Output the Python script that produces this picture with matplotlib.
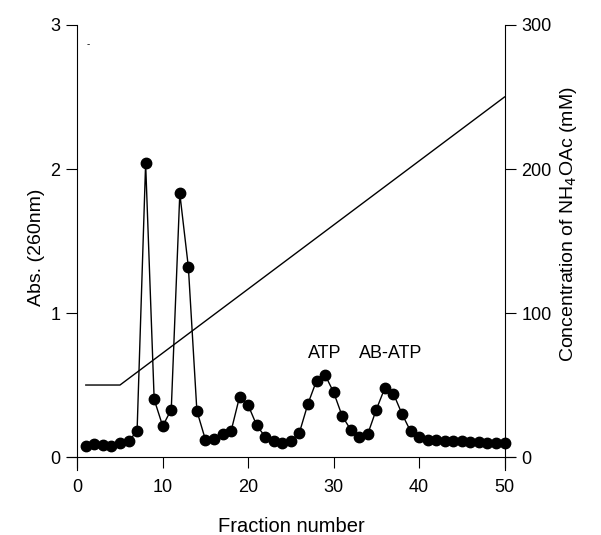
"""
Anion-exchange elution profile: absorbance at 260 nm and NH4OAc gradient
"""
import matplotlib
matplotlib.use('Agg')
import matplotlib.pyplot as plt

plt.rcParams['font.family'] = ['Liberation Sans', 'DejaVu Sans']

# Absorbance per fraction
fractions = list(range(1, 51))
absorbance = [
    0.08, 0.09, 0.085, 0.08, 0.10, 0.11, 0.18, 2.04, 0.40, 0.215,
    0.33, 1.83, 1.32, 0.32, 0.12, 0.125, 0.16, 0.18, 0.42, 0.36,
    0.22, 0.14, 0.11, 0.10, 0.11, 0.17, 0.37, 0.53, 0.57, 0.45,
    0.285, 0.19, 0.14, 0.16, 0.33, 0.48, 0.44, 0.30, 0.18, 0.14,
    0.12, 0.115, 0.11, 0.11, 0.11, 0.105, 0.105, 0.10, 0.10, 0.10,
]

# NH4OAc gradient (mM): flat, then linear
grad_x = [1, 5, 50]
grad_mm = [50, 50, 250]

peak_labels = ['ATP', 'AB-ATP']
peak_pos = [(29, 0.72), (36.7, 0.72)]

fig = plt.figure(figsize=(6.01, 5.35), dpi=100)
ax = fig.add_axes([0.1115, 0.1215, 0.745, 0.8318])
ax2 = ax.twinx()

ax.plot(fractions, absorbance, color='black', linewidth=1.0,
        marker='o', markersize=7.5, markerfacecolor='black', zorder=3)
ax2.plot(grad_x, grad_mm, color='black', linewidth=1.0)

ax.set_xlim(-1.2, 51.2)
ax.set_ylim(-0.09, 3)
ax2.set_ylim(-9, 300)

for a in (ax, ax2):
    a.spines['top'].set_visible(False)
ax.spines['left'].set_position(('data', 0))
ax.spines['bottom'].set_position(('data', 0))
ax.spines['right'].set_visible(False)
ax2.spines['left'].set_visible(False)
ax2.spines['bottom'].set_visible(False)
ax2.spines['right'].set_position(('data', 50))

ax.set_xticks([0, 10, 20, 30, 40, 50])
ax.set_yticks([0, 1, 2, 3])
ax2.set_yticks([0, 100, 200, 300])
ax.tick_params(axis='x', direction='out', length=8, width=0.8, labelsize=13, pad=8)
ax.tick_params(axis='y', direction='out', length=8, width=0.8, labelsize=13, pad=4)
ax2.tick_params(axis='y', direction='out', length=8, width=0.8, labelsize=13, pad=4)

ax.set_xlabel('Fraction number', fontsize=14.5, labelpad=15)
ax.set_ylabel('Abs. (260nm)', fontsize=14, labelpad=4)
ax2.set_ylabel('Concentration of NH$_4$OAc (mM)', fontsize=14, va='center')
ax2.yaxis.set_label_coords(1.12, 0.553)

for txt, (px, py) in zip(peak_labels, peak_pos):
    ax.text(px, py, txt, fontsize=13, ha='center', va='center')

# small stray mark near the top of the left axis in the original
ax.text(1.3, 2.87, '-', fontsize=7, ha='center', va='center')

plt.savefig('out.png', dpi=100)
plt.close()
